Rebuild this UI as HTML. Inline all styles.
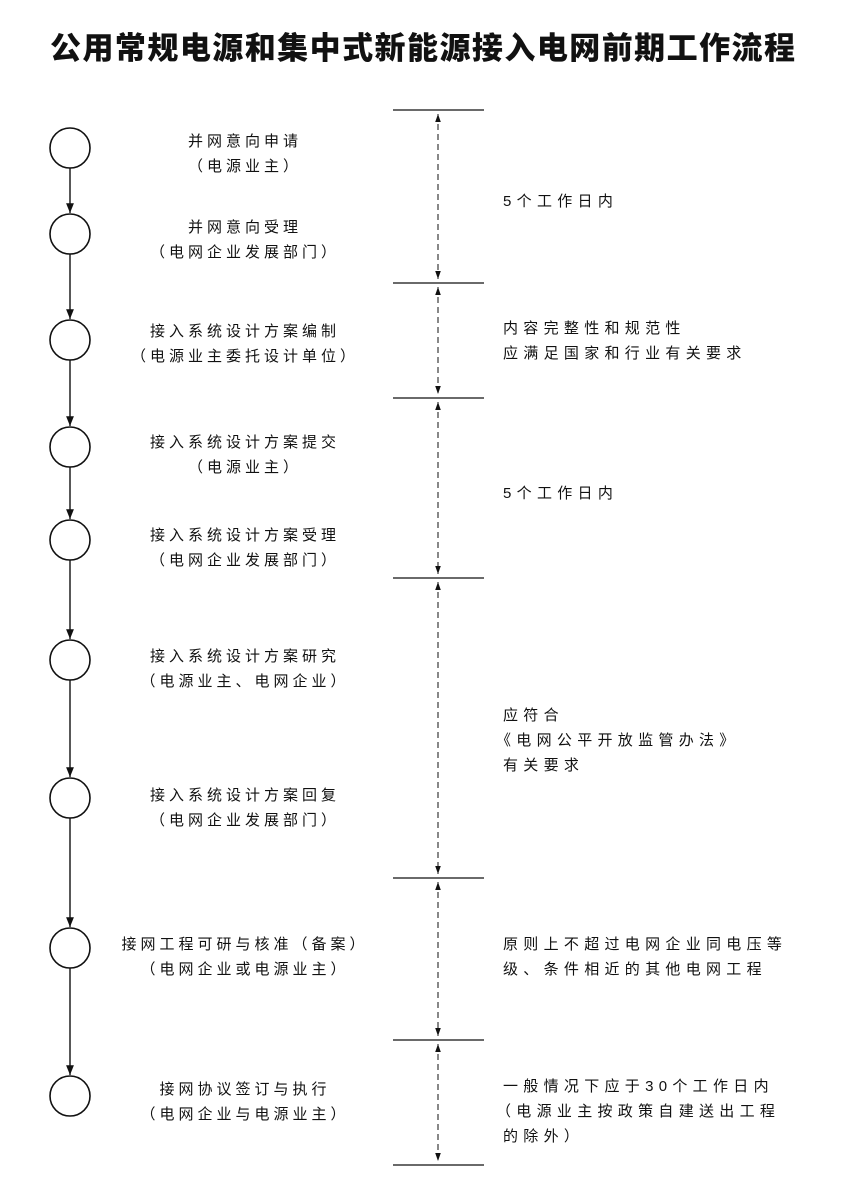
<!DOCTYPE html>
<html><head><meta charset="utf-8"><style>
html,body{margin:0;padding:0;background:#fff;}
svg text{font-family:"Liberation Sans","Noto Sans CJK SC",sans-serif;fill:#111;}
.t{font-size:15px;letter-spacing:4px;}
.r{font-size:15px;letter-spacing:5.3px;}
</style></head><body>
<svg width="849" height="1199" viewBox="0 0 849 1199" xmlns="http://www.w3.org/2000/svg">
<defs>
<marker id="a" viewBox="0 0 10 10" refX="10" refY="5" markerWidth="7" markerHeight="7" orient="auto-start-reverse"><path d="M0,1 L10,5 L0,9 z" fill="#111"/></marker>
<marker id="s" viewBox="0 0 10 10" refX="10" refY="5" markerWidth="8" markerHeight="8" orient="auto-start-reverse"><path d="M0,1.5 L10,5 L0,8.5 z" fill="#111"/></marker>
</defs>
<text x="50" y="59" textLength="745" lengthAdjust="spacing" style="font-size:31px;font-weight:900;font-family:'Noto Sans CJK SC',sans-serif">公用常规电源和集中式新能源接入电网前期工作流程</text>
<g fill="none" stroke="#111" stroke-width="1.6">
<circle cx="70" cy="148" r="20"/><circle cx="70" cy="234" r="20"/><circle cx="70" cy="340" r="20"/>
<circle cx="70" cy="447" r="20"/><circle cx="70" cy="540" r="20"/><circle cx="70" cy="660" r="20"/>
<circle cx="70" cy="798" r="20"/><circle cx="70" cy="948" r="20"/><circle cx="70" cy="1096" r="20"/>
</g>
<g stroke="#111" stroke-width="1.4" marker-end="url(#a)">
<line x1="70" y1="168" x2="70" y2="213"/><line x1="70" y1="254" x2="70" y2="319"/>
<line x1="70" y1="360" x2="70" y2="426"/><line x1="70" y1="467" x2="70" y2="519"/>
<line x1="70" y1="560" x2="70" y2="639"/><line x1="70" y1="680" x2="70" y2="777"/>
<line x1="70" y1="818" x2="70" y2="927"/><line x1="70" y1="968" x2="70" y2="1075"/>
</g>
<g stroke="#111" stroke-width="1.2">
<line x1="393" y1="110" x2="484" y2="110"/><line x1="393" y1="283" x2="484" y2="283"/>
<line x1="393" y1="398" x2="484" y2="398"/><line x1="393" y1="578" x2="484" y2="578"/>
<line x1="393" y1="878" x2="484" y2="878"/><line x1="393" y1="1040" x2="484" y2="1040"/>
<line x1="393" y1="1165" x2="484" y2="1165"/>
</g>
<g stroke="#111" stroke-width="1" stroke-dasharray="6,4" marker-start="url(#s)" marker-end="url(#s)">
<line x1="438" y1="114" x2="438" y2="279"/><line x1="438" y1="287" x2="438" y2="394"/>
<line x1="438" y1="402" x2="438" y2="574"/><line x1="438" y1="582" x2="438" y2="874"/>
<line x1="438" y1="882" x2="438" y2="1036"/><line x1="438" y1="1044" x2="438" y2="1161"/>
</g>
<g class="t" text-anchor="middle">
<text x="245" y="146">并网意向申请</text><text x="245" y="171">（电源业主）</text>
<text x="245" y="232">并网意向受理</text><text x="245" y="257">（电网企业发展部门）</text>
<text x="245" y="336">接入系统设计方案编制</text><text x="245" y="361">（电源业主委托设计单位）</text>
<text x="245" y="447">接入系统设计方案提交</text><text x="245" y="472">（电源业主）</text>
<text x="245" y="540">接入系统设计方案受理</text><text x="245" y="565">（电网企业发展部门）</text>
<text x="245" y="661">接入系统设计方案研究</text><text x="245" y="686">（电源业主、电网企业）</text>
<text x="245" y="800">接入系统设计方案回复</text><text x="245" y="825">（电网企业发展部门）</text>
<text x="245" y="949">接网工程可研与核准（备案）</text><text x="245" y="974">（电网企业或电源业主）</text>
<text x="245" y="1094">接网协议签订与执行</text><text x="245" y="1119">（电网企业与电源业主）</text>
</g>
<g class="r">
<text x="503" y="206">5个工作日内</text>
<text x="503" y="333">内容完整性和规范性</text><text x="503" y="358">应满足国家和行业有关要求</text>
<text x="503" y="498">5个工作日内</text>
<text x="503" y="720">应符合</text><text x="496" y="745">《电网公平开放监管办法》</text><text x="503" y="770">有关要求</text>
<text x="503" y="949">原则上不超过电网企业同电压等</text><text x="503" y="974">级、条件相近的其他电网工程</text>
<text x="503" y="1091">一般情况下应于30个工作日内</text><text x="496" y="1116">（电源业主按政策自建送出工程</text><text x="503" y="1141">的除外）</text>
</g>
</svg>
</body></html>
